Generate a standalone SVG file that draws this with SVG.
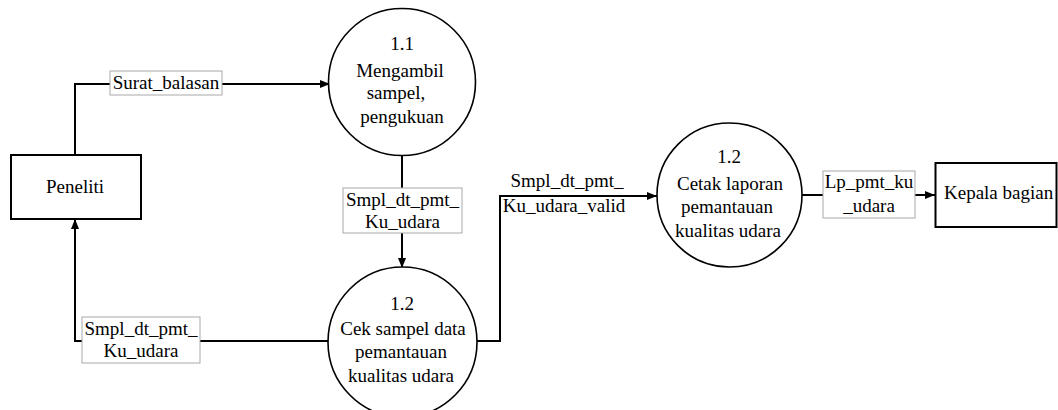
<svg xmlns="http://www.w3.org/2000/svg" width="1058" height="410" viewBox="0 0 1058 410">
  <defs>
    <marker id="arrow" viewBox="0 0 10 8" markerWidth="10" markerHeight="8" refX="10" refY="4" orient="auto" markerUnits="userSpaceOnUse">
      <path d="M0,0 L10,4 L0,8 z" fill="#000"/>
    </marker>
  </defs>
  <rect width="1058" height="410" fill="#fff"/>

  <!-- data flows -->
  <g id="connectors">
    <g fill="none" stroke="#000" stroke-width="2">
      <path d="M75,155 V84 H330" marker-end="url(#arrow)"/>
      <path d="M402,155 V268" marker-end="url(#arrow)"/>
      <path d="M328,341 H75 V219" marker-end="url(#arrow)"/>
      <path d="M477,341 H500 V196 H657" marker-end="url(#arrow)"/>
      <path d="M802,195 H935" marker-end="url(#arrow)"/>
    </g>
    <g fill="#fff" stroke="#a8a8a8" stroke-width="1">
      <rect x="110" y="71" width="112" height="24"/>
      <rect x="343" y="188" width="119" height="45"/>
      <rect x="82" y="317" width="118" height="46"/>
      <rect x="823" y="171" width="92" height="47"/>
    </g>
    <text font-family="Liberation Serif" font-size="19" text-anchor="middle" x="166" y="89">Surat_balasan</text>
    <text font-family="Liberation Serif" font-size="19" text-anchor="middle" x="402.5" y="206">Smpl_dt_pmt_</text>
    <text font-family="Liberation Serif" font-size="19" text-anchor="middle" x="402.5" y="228">Ku_udara</text>
    <text font-family="Liberation Serif" font-size="19" text-anchor="middle" x="141" y="335">Smpl_dt_pmt_</text>
    <text font-family="Liberation Serif" font-size="19" text-anchor="middle" x="141" y="357">Ku_udara</text>
    <text font-family="Liberation Serif" font-size="19" text-anchor="middle" x="567" y="187">Smpl_dt_pmt_</text>
    <text font-family="Liberation Serif" font-size="19" text-anchor="middle" x="564" y="212">Ku_udara_valid</text>
    <text font-family="Liberation Serif" font-size="19" text-anchor="middle" x="869" y="188">Lp_pmt_ku</text>
    <text font-family="Liberation Serif" font-size="19" text-anchor="middle" x="869" y="212">_udara</text>
  </g>

  <!-- external entities -->
  <g id="peneliti">
    <rect x="11" y="155" width="130" height="64" fill="#fff" stroke="#000" stroke-width="2"/>
    <text font-family="Liberation Serif" font-size="19" text-anchor="middle" x="75" y="193">Peneliti</text>
  </g>
  <g id="kepala-bagian">
    <rect x="935.5" y="163" width="121" height="64" fill="#fff" stroke="#000" stroke-width="2"/>
    <text font-family="Liberation Serif" font-size="19" x="944" y="199">Kepala bagian</text>
  </g>

  <!-- processes -->
  <g id="proc-1-1">
    <circle cx="402" cy="82" r="73.5" fill="#fff" stroke="#000" stroke-width="1.6"/>
    <text font-family="Liberation Serif" font-size="19" text-anchor="middle" x="402" y="50">1.1</text>
    <text font-family="Liberation Serif" font-size="19" text-anchor="middle" x="400" y="77">Mengambil</text>
    <text font-family="Liberation Serif" font-size="19" text-anchor="middle" x="396" y="99">sampel,</text>
    <text font-family="Liberation Serif" font-size="19" text-anchor="middle" x="402" y="123">pengukuan</text>
  </g>
  <g id="proc-1-2-cek">
    <ellipse cx="402.5" cy="342" rx="74.5" ry="75" fill="#fff" stroke="#000" stroke-width="1.6"/>
    <text font-family="Liberation Serif" font-size="19" text-anchor="middle" x="402" y="310">1.2</text>
    <text font-family="Liberation Serif" font-size="19" text-anchor="middle" x="403" y="335">Cek sampel data</text>
    <text font-family="Liberation Serif" font-size="19" text-anchor="middle" x="401" y="358">pemantauan</text>
    <text font-family="Liberation Serif" font-size="19" text-anchor="middle" x="401" y="382">kualitas udara</text>
  </g>
  <g id="proc-1-2-cetak">
    <ellipse cx="729.5" cy="195" rx="72.5" ry="72" fill="#fff" stroke="#000" stroke-width="1.6"/>
    <text font-family="Liberation Serif" font-size="19" text-anchor="middle" x="729" y="163">1.2</text>
    <text font-family="Liberation Serif" font-size="19" text-anchor="middle" x="730" y="190">Cetak laporan</text>
    <text font-family="Liberation Serif" font-size="19" text-anchor="middle" x="727" y="213">pemantauan</text>
    <text font-family="Liberation Serif" font-size="19" text-anchor="middle" x="728" y="237">kualitas udara</text>
  </g>
</svg>
